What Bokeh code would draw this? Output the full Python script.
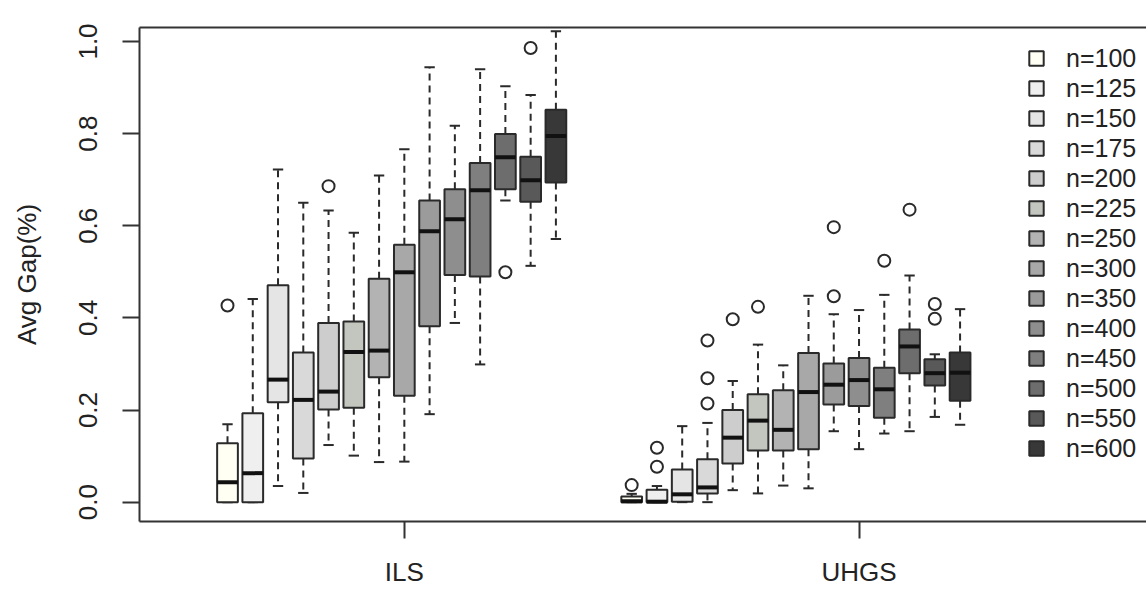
import numpy as np
from bokeh.plotting import figure
from bokeh.models import (ColumnDataSource, Range1d, FixedTicker, LinearAxis, Legend,
                          LegendItem, NumeralTickFormatter)
from bokeh.embed import file_html
from bokeh.resources import INLINE

# ---------------- data ----------------
sizes = ["n=100", "n=125", "n=150", "n=175", "n=200", "n=225", "n=250",
         "n=300", "n=350", "n=400", "n=450", "n=500", "n=550", "n=600"]
groups = ["ILS", "UHGS"]
colors = ["#FFFFF4", "#EFEFEF", "#E5E5E5", "#D9D9D9", "#CDCDCD", "#C2C6BF", "#B3B3B3",
          "#A8A8A8", "#9B9B9B", "#8E8E8E", "#7F7F7F", "#6D6D6D", "#595959", "#383838"]

ils_lo  = [0.000, 0.000, 0.035, 0.020, 0.124, 0.101, 0.087, 0.088, 0.191, 0.389, 0.299, 0.655, 0.513, 0.571]
ils_q1  = [0.000, 0.000, 0.217, 0.095, 0.201, 0.205, 0.271, 0.231, 0.382, 0.493, 0.490, 0.679, 0.652, 0.694]
ils_med = [0.043, 0.063, 0.266, 0.222, 0.240, 0.326, 0.329, 0.499, 0.588, 0.614, 0.677, 0.749, 0.699, 0.795]
ils_q3  = [0.128, 0.193, 0.471, 0.325, 0.389, 0.392, 0.485, 0.559, 0.655, 0.679, 0.736, 0.799, 0.750, 0.852]
ils_hi  = [0.169, 0.441, 0.722, 0.650, 0.633, 0.585, 0.709, 0.766, 0.944, 0.817, 0.940, 0.903, 0.884, 1.022]
ils_out_box = [0, 4, 11, 11, 12]
ils_out_val = [0.427, 0.686, 1.050, 0.499, 0.986]

uhgs_lo  = [0.000, 0.000, 0.000, 0.000, 0.026, 0.019, 0.036, 0.030, 0.154, 0.115, 0.149, 0.154, 0.185, 0.168]
uhgs_q1  = [0.000, 0.000, 0.001, 0.019, 0.084, 0.112, 0.112, 0.115, 0.212, 0.209, 0.183, 0.280, 0.253, 0.220]
uhgs_med = [0.002, 0.001, 0.017, 0.032, 0.140, 0.177, 0.157, 0.239, 0.255, 0.265, 0.245, 0.338, 0.280, 0.281]
uhgs_q3  = [0.012, 0.027, 0.071, 0.093, 0.200, 0.234, 0.243, 0.324, 0.301, 0.313, 0.292, 0.375, 0.310, 0.325]
uhgs_hi  = [0.018, 0.035, 0.165, 0.172, 0.263, 0.342, 0.297, 0.448, 0.408, 0.417, 0.450, 0.492, 0.321, 0.419]
uhgs_out_box = [0, 1, 1, 3, 3, 3, 4, 5, 8, 8, 10, 11, 12, 12]
uhgs_out_val = [0.037, 0.118, 0.077, 0.351, 0.269, 0.214, 0.397, 0.424, 0.597, 0.447, 0.524, 0.635, 0.430, 0.398]

y_ticks = [0.0, 0.2, 0.4, 0.6, 0.8, 1.0]

# ---------------- layout helpers ----------------
ils_pos = np.arange(1, 15)
uhgs_pos = np.arange(17, 31)
group_ticks = [8, 26]
BOX_W = 0.82
CAP_W = 0.41

FONT = "Liberation Sans"
TXT = "#222222"
LINE = "#2a2a2a"
AX = "#333333"

x = np.concatenate([ils_pos, uhgs_pos]).astype(float)
src = ColumnDataSource(dict(
    x=x,
    lo=ils_lo + uhgs_lo, q1=ils_q1 + uhgs_q1, med=ils_med + uhgs_med,
    q3=ils_q3 + uhgs_q3, hi=ils_hi + uhgs_hi,
    color=colors + colors,
    xl=x - BOX_W / 2, xr=x + BOX_W / 2,
    cl=x - CAP_W / 2, cr=x + CAP_W / 2,
))

out_src = ColumnDataSource(dict(
    x=[ils_pos[i] for i in ils_out_box] + [uhgs_pos[i] for i in uhgs_out_box],
    y=ils_out_val + uhgs_out_val,
))

p = figure(width=1146, height=589, output_backend="svg", toolbar_location=None,
           x_range=Range1d(-2.484, 37.38), y_range=Range1d(-0.042, 1.0304),
           min_border_left=139, min_border_right=0, min_border_top=27, min_border_bottom=67)
p.outline_line_color = None
p.grid.visible = False
p.background_fill_color = "white"
p.border_fill_color = "white"

# whiskers
p.segment(x0="x", y0="q3", x1="x", y1="hi", source=src, line_color=LINE, line_width=2, line_dash="7 5")
p.segment(x0="x", y0="q1", x1="x", y1="lo", source=src, line_color=LINE, line_width=2, line_dash="7 5")
# caps
p.segment(x0="cl", y0="hi", x1="cr", y1="hi", source=src, line_color=LINE, line_width=2)
p.segment(x0="cl", y0="lo", x1="cr", y1="lo", source=src, line_color=LINE, line_width=2)
# boxes
boxes = p.vbar(x="x", width=BOX_W, bottom="q1", top="q3", source=src,
               fill_color="color", line_color=LINE, line_width=2)
# medians
p.segment(x0="xl", y0="med", x1="xr", y1="med", source=src, line_color="#111111", line_width=4)
# outliers
p.scatter(x="x", y="y", source=out_src, marker="circle", size=12,
          fill_color=None, line_color=LINE, line_width=2)

# y axis
ya = p.yaxis[0]
ya.ticker = FixedTicker(ticks=y_ticks)
ya.formatter = NumeralTickFormatter(format="0.0")
ya.major_label_orientation = "vertical"
ya.axis_label = "Avg Gap(%)"
ya.axis_label_text_font = FONT
ya.axis_label_text_font_style = "normal"
ya.axis_label_text_font_size = "26px"
ya.axis_label_text_color = TXT
ya.axis_label_standoff = 35
ya.major_label_text_font = FONT
ya.major_label_text_font_size = "26px"
ya.major_label_text_color = TXT
ya.major_label_standoff = 25
ya.major_tick_out = 17
ya.major_tick_in = 0
ya.minor_tick_line_color = None
ya.axis_line_width = 2
ya.axis_line_color = AX
ya.major_tick_line_width = 2
ya.major_tick_line_color = AX

# x axis: group names
xa = p.xaxis[0]
xa.ticker = FixedTicker(ticks=group_ticks)
xa.major_label_overrides = {t: g for t, g in zip(group_ticks, groups)}
xa.major_label_text_font = FONT
xa.major_label_text_font_size = "26px"
xa.major_label_text_color = TXT
xa.major_label_standoff = 18
xa.major_tick_out = 17
xa.major_tick_in = 0
xa.minor_tick_line_color = None
xa.axis_line_width = 2
xa.axis_line_color = AX
xa.major_tick_line_width = 2
xa.major_tick_line_color = AX

# top border
top_ax = LinearAxis(ticker=FixedTicker(ticks=[]), axis_line_width=2, axis_line_color=AX,
                    major_tick_line_color=None, minor_tick_line_color=None,
                    major_label_text_font_size="0px")
p.add_layout(top_ax, "above")

# legend
legend = Legend(items=[LegendItem(label=s, renderers=[boxes], index=i) for i, s in enumerate(sizes)],
                location=(888, 58), margin=0, padding=0, spacing=0,
                glyph_width=18, glyph_height=18, label_height=30, label_standoff=21,
                label_text_font=FONT, label_text_font_size="25px", label_text_color=TXT,
                border_line_color=None, background_fill_alpha=0)
p.add_layout(legend)

open("out.html", "w").write(file_html(p, INLINE))
